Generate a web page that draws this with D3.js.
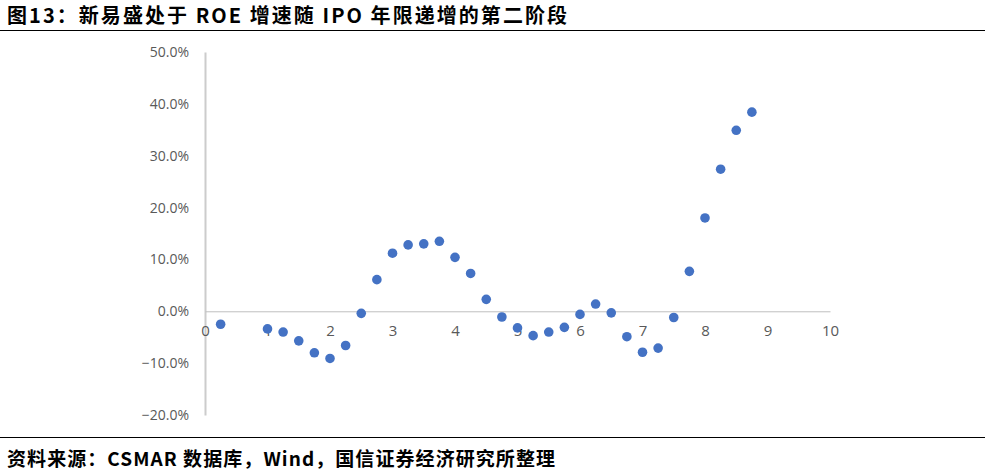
<!DOCTYPE html>
<html>
<head>
<meta charset="utf-8">
<script src="https://cdn.jsdelivr.net/npm/d3@7"></script>
<style>
  html, body { margin: 0; padding: 0; background: #fff; }
  svg { display: block; }
</style>
</head>
<body>
<svg id="chart" width="985" height="475"></svg>
<script>
const titleText = "图13：新易盛处于 ROE 增速随 IPO 年限递增的第二阶段";
const sourceText = "资料来源：CSMAR 数据库，Wind，国信证券经济研究所整理";
const years = [0.25, 1.0, 1.25, 1.5, 1.75, 2.0, 2.25, 2.5, 2.75, 3.0, 3.25, 3.5, 3.75, 4.0, 4.25, 4.5, 4.75,
               5.0, 5.25, 5.5, 5.75, 6.0, 6.25, 6.5, 6.75, 7.0, 7.25, 7.5, 7.75, 8.0, 8.25, 8.5, 8.75];
const roeGrowth = [-0.025, -0.034, -0.040, -0.057, -0.080, -0.091, -0.066, -0.004, 0.061, 0.112, 0.128, 0.130, 0.135,
                   0.104, 0.073, 0.023, -0.011, -0.032, -0.047, -0.040, -0.031, -0.006, 0.014, -0.003, -0.049,
                   -0.079, -0.071, -0.012, 0.077, 0.180, 0.274, 0.349, 0.384];
const xTicks = [0, 1, 2, 3, 4, 5, 6, 7, 8, 9, 10];
const yTicks = [-0.2, -0.1, 0, 0.1, 0.2, 0.3, 0.4, 0.5];

const svg = d3.select("#chart");
const cjk = "'Noto Sans CJK SC', 'Noto Sans', sans-serif";

// Title and rules
svg.append("text").attr("x", 7).attr("y", 23)
  .attr("font-family", cjk).attr("font-size", 20).attr("font-weight", "bold")
  .attr("textLength", 560).attr("lengthAdjust", "spacing")
  .attr("fill", "#000").text(titleText);
svg.append("line").attr("x1", 0).attr("x2", 985).attr("y1", 30.5).attr("y2", 30.5)
  .attr("stroke", "#000").attr("stroke-width", 1.2);
svg.append("line").attr("x1", 0).attr("x2", 985).attr("y1", 437.5).attr("y2", 437.5)
  .attr("stroke", "#000").attr("stroke-width", 1.2);
svg.append("text").attr("x", 7).attr("y", 466)
  .attr("font-family", cjk).attr("font-size", 19).attr("font-weight", "bold")
  .attr("textLength", 548).attr("lengthAdjust", "spacing")
  .attr("fill", "#000").text(sourceText);

const x = d3.scaleLinear().domain([0, 10]).range([205, 830]);
const y = d3.scaleLinear().domain([-0.2, 0.5]).range([415, 52]);

// Y axis
const yAxis = d3.axisLeft(y).tickValues(yTicks).tickFormat(d3.format(".1%")).tickSize(0).tickPadding(16);
const gy = svg.append("g").attr("transform", `translate(${x(0)},0)`).call(yAxis);
gy.select(".domain").attr("stroke", "#cccccc").attr("stroke-width", 2);
gy.selectAll("text").attr("font-family", "'Open Sans', sans-serif").attr("font-size", 14).attr("fill", "#595959");

// X axis at zero
const xAxis = d3.axisBottom(x).tickValues(xTicks).tickFormat(d3.format("d")).tickSize(0).tickPadding(14);
const gx = svg.append("g").attr("transform", `translate(0,${y(0)})`).call(xAxis);
gx.select(".domain").attr("stroke", "#bfbfbf").attr("stroke-width", 1);
gx.selectAll("text").attr("font-family", "'Open Sans', sans-serif").attr("font-size", 15).attr("fill", "#595959");

// Points
svg.append("g").selectAll("circle").data(years).join("circle")
  .attr("cx", (d) => x(d))
  .attr("cy", (d, i) => y(roeGrowth[i]))
  .attr("r", 4.8)
  .attr("fill", "#4472C4");
</script>
</body>
</html>
